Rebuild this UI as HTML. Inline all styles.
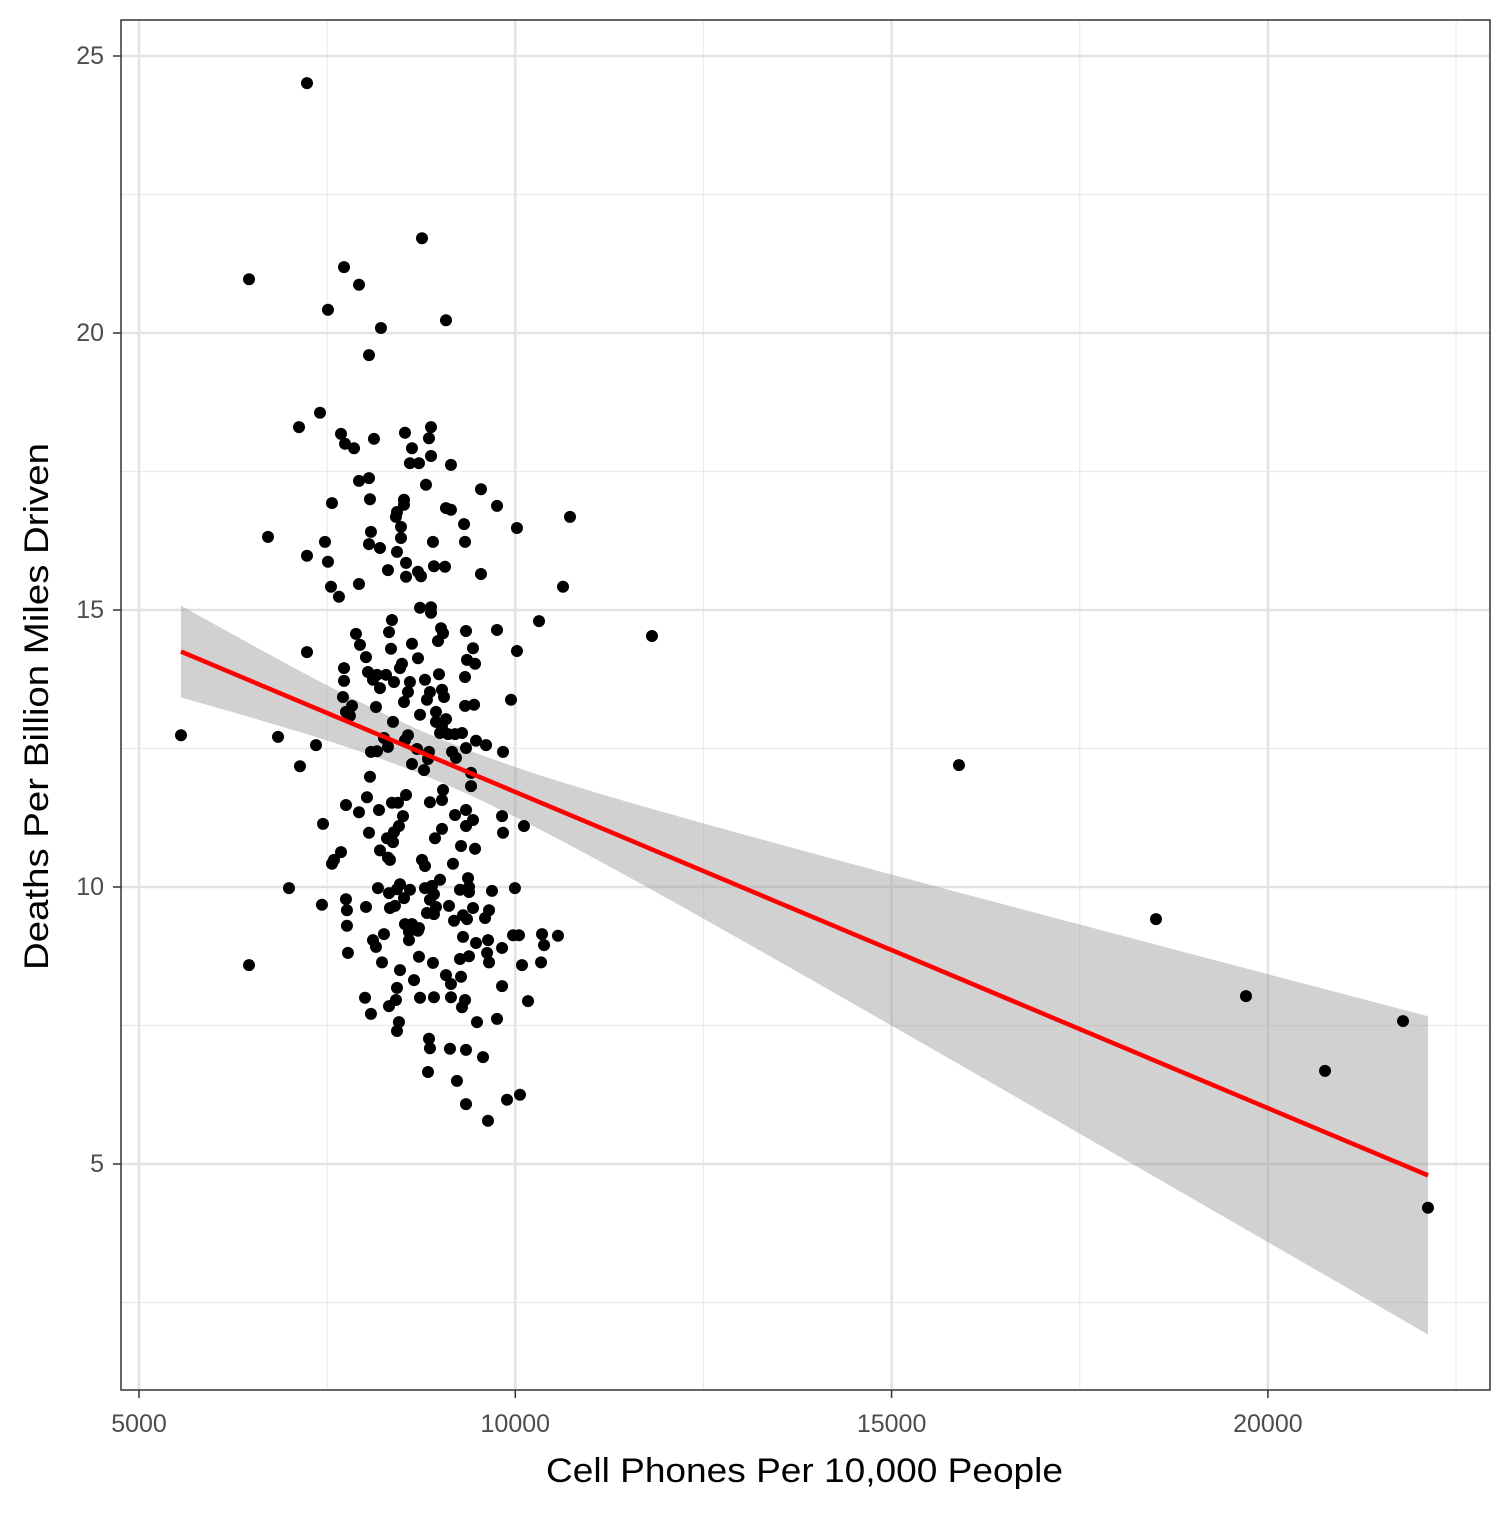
<!DOCTYPE html>
<html><head><meta charset="utf-8"><style>
body{margin:0;background:#fff}
svg text{font-family:"Liberation Sans Narrow","Liberation Sans",sans-serif}
</style></head><body>
<svg id="chart" width="1512" height="1512" viewBox="0 0 1512 1512">
<rect x="0" y="0" width="1512" height="1512" fill="#fff"/>
<g id="grid"></g>
<g id="band"></g>
<g id="pts"></g>
<g id="fit"></g>
<rect x="121" y="20" width="1369" height="1370" fill="none" stroke="#333" stroke-width="1.5"/>
<g id="axes"></g>
<text x="546" y="1482" font-size="34" textLength="517" lengthAdjust="spacingAndGlyphs" fill="#000">Cell Phones Per 10,000 People</text>
<text transform="translate(48,970) rotate(-90)" font-size="34" textLength="527" lengthAdjust="spacingAndGlyphs" fill="#000">Deaths Per Billion Miles Driven</text>
</svg>
<script>
const xTicks=[5000,10000,15000,20000];
const yTicks=[5,10,15,20,25];
const xMinor=[7500,12500,17500,22500];
const yMinor=[2.5,7.5,12.5,17.5,22.5];
const cellPhones=[7232,8760,6462,7724,7923,7511,9079,8215,8056,7405,7126,7684,8122,8534,8880,8853,7737,7857,8627,8880,8600,8720,9145,8056,7923,8813,9544,7564,8069,8521,8428,8414,9079,9145,9757,8521,10727,9319,10022,8082,8481,8481,6714,7471,8056,8202,8906,9332,7232,8428,7511,8548,8308,8919,9066,9544,8707,8548,8747,7551,7923,10634,7657,8734,8880,8880,8361,10315,9013,9757,7883,8322,9345,9040,11816,8973,7936,8627,9438,7232,8348,10022,8016,9358,8707,9465,8494,7724,8043,8162,8282,8986,8468,8109,8388,7724,8600,8800,9332,8202,8574,8866,9026,7710,8826,8521,9943,9053,9332,9452,7830,8149,8946,7750,7803,8734,9079,8375,8946,9026,9000,5558,6847,9106,9199,8574,8534,8255,9292,9478,7352,9611,8308,8162,8082,8694,8853,9345,9837,9159,9212,8840,8627,7139,15895,8787,9412,8069,9412,9040,8548,8029,8361,8441,9026,8866,7750,8189,7923,9345,8508,9199,9824,9438,7445,8454,9026,10115,9345,8388,8056,8295,8933,9837,8375,9279,9465,7684,8202,8308,7591,8760,7564,8335,9172,8800,9372,9000,8893,6993,8175,8428,8468,8600,9385,9995,9265,9690,8800,8919,8322,8521,8866,7750,9385,7431,8016,7763,8401,8335,9119,8946,9438,8826,8919,9651,9305,9598,18513,9186,9358,7763,8534,8627,8720,8587,8707,8255,9970,10049,10355,10567,9305,8587,9638,8109,9478,10382,8149,9824,7776,9625,8720,9385,9265,8229,8906,6462,10342,10089,9651,8468,9079,9279,8654,8428,9145,9824,19709,8003,8734,8919,9145,9332,8414,10169,8322,9292,8082,8454,9757,21795,9491,8428,8853,8866,9132,9345,9571,8840,20759,9225,9890,10062,9345,9637,22127];
const deaths=[24.51,21.71,20.97,21.19,20.87,20.42,20.23,20.09,19.60,18.56,18.30,18.18,18.09,18.20,18.30,18.10,18.00,17.92,17.92,17.78,17.65,17.65,17.62,17.38,17.33,17.26,17.18,16.93,17.00,16.99,16.77,16.68,16.84,16.81,16.88,16.90,16.68,16.55,16.48,16.41,16.50,16.30,16.32,16.23,16.19,16.12,16.23,16.23,15.98,16.05,15.87,15.85,15.72,15.79,15.78,15.65,15.69,15.60,15.61,15.42,15.47,15.42,15.24,15.04,15.05,14.95,14.82,14.80,14.67,14.64,14.57,14.60,14.62,14.58,14.53,14.44,14.37,14.39,14.31,14.24,14.30,14.26,14.15,14.10,14.13,14.03,14.03,13.95,13.88,13.83,13.83,13.84,13.95,13.74,13.70,13.72,13.70,13.74,13.79,13.59,13.52,13.52,13.56,13.43,13.38,13.34,13.38,13.43,13.27,13.29,13.27,13.25,13.16,13.16,13.09,13.11,13.03,12.98,12.98,12.89,12.78,12.74,12.71,12.76,12.76,12.74,12.65,12.69,12.78,12.64,12.56,12.56,12.53,12.45,12.44,12.49,12.44,12.51,12.44,12.44,12.33,12.31,12.22,12.18,12.20,12.11,12.06,11.99,11.82,11.75,11.66,11.62,11.52,11.52,11.57,11.53,11.48,11.39,11.35,11.39,11.28,11.30,11.28,11.21,11.14,11.10,11.05,11.10,11.10,10.99,10.98,10.88,10.88,10.98,10.81,10.74,10.69,10.63,10.66,10.53,10.49,10.49,10.42,10.49,10.42,10.38,10.16,10.13,10.02,9.98,9.98,9.96,10.05,9.95,10.00,9.98,9.95,9.93,9.98,9.87,9.89,9.80,9.77,9.78,9.91,9.68,9.64,9.58,9.66,9.62,9.66,9.64,9.62,9.53,9.51,9.58,9.49,9.44,9.42,9.39,9.42,9.30,9.33,9.33,9.26,9.19,9.21,9.15,9.13,9.13,9.15,9.12,9.10,9.04,9.04,9.04,8.99,8.95,8.92,8.90,8.81,8.81,8.74,8.75,8.70,8.64,8.63,8.59,8.64,8.59,8.64,8.50,8.41,8.38,8.32,8.18,8.25,8.21,8.03,8.00,8.00,8.01,8.01,7.96,7.96,7.94,7.85,7.83,7.71,7.56,7.62,7.58,7.56,7.40,7.26,7.09,7.08,7.06,6.93,6.66,6.68,6.50,6.16,6.25,6.08,5.78,4.21];

const NS='http://www.w3.org/2000/svg';
const X=v=>139+(v-5000)*(376.3/5000);
const Y=v=>56+(25-v)*55.4;
function mk(tag,attrs,parent){const e=document.createElementNS(NS,tag);for(const k in attrs)e.setAttribute(k,attrs[k]);parent.appendChild(e);return e;}
const grid=document.getElementById('grid'),axes=document.getElementById('axes');
xMinor.forEach(v=>{const l=mk('line',{x1:X(v),x2:X(v),y1:20,y2:1390,stroke:'#ebebeb','stroke-width':1.2},grid);

});
yMinor.forEach(v=>{const l=mk('line',{x1:121,x2:1490,y1:Y(v),y2:Y(v),stroke:'#ebebeb','stroke-width':1.2},grid);

});
xTicks.forEach(v=>{const l=mk('line',{x1:X(v),x2:X(v),y1:20,y2:1390,stroke:'#e3e3e3','stroke-width':2.5},grid);


const t=mk('line',{x1:X(v),x2:X(v),y1:1390,y2:1398,stroke:'#333','stroke-width':1.5},axes);


const tx=mk('text',{x:X(v),y:1432,'font-size':25,'text-anchor':'middle',fill:'#4d4d4d'},axes);tx.textContent=v;

});
yTicks.forEach(v=>{const l=mk('line',{x1:121,x2:1490,y1:Y(v),y2:Y(v),stroke:'#e3e3e3','stroke-width':2.5},grid);


const t=mk('line',{x1:113,x2:121,y1:Y(v),y2:Y(v),stroke:'#333','stroke-width':1.5},axes);


const tx=mk('text',{x:104,y:Y(v)+8,'font-size':25,'text-anchor':'end',fill:'#4d4d4d'},axes);tx.textContent=v;

});
const n=cellPhones.length;let mx=0,my=0;for(let i=0;i<n;i++){mx+=cellPhones[i];my+=deaths[i];}mx/=n;my/=n;
let sxx=0,sxy=0;for(let i=0;i<n;i++){sxx+=(cellPhones[i]-mx)**2;sxy+=(cellPhones[i]-mx)*(deaths[i]-my);}
const b=sxy/sxx,a=my-b*mx;let sse=0;for(let i=0;i<n;i++){sse+=(deaths[i]-a-b*cellPhones[i])**2;}
const s=Math.sqrt(sse/(n-2));
const x0=Math.min(...cellPhones),x1=Math.max(...cellPhones);
const up=[],lo=[];for(let k=0;k<=80;k++){const xv=x0+(x1-x0)*k/80;const f=a+b*xv;const se=1.968*s*Math.sqrt(1/n+(xv-mx)**2/sxx);
up.push(X(xv)+','+Y(f+se));lo.unshift(X(xv)+','+Y(f-se));}
const band=mk('polygon',{points:up.concat(lo).join(' '),fill:'#999','fill-opacity':0.45},document.getElementById('band'));


const pts=document.getElementById('pts');
for(let i=0;i<n;i++){const c=mk('circle',{cx:X(cellPhones[i]),cy:Y(deaths[i]),r:6,fill:'#000'},pts);

}
const ln=mk('line',{x1:X(x0),y1:Y(a+b*x0),x2:X(x1),y2:Y(a+b*x1),stroke:'#ff0000','stroke-width':4.5},document.getElementById('fit'));


</script>
</body></html>
